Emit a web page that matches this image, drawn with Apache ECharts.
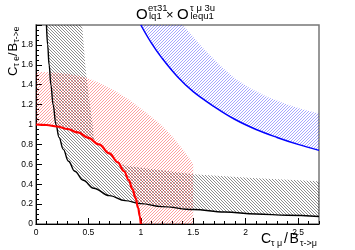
<!DOCTYPE html>
<html><head><meta charset="utf-8">
<script src="https://cdn.jsdelivr.net/npm/echarts@6/dist/echarts.min.js"></script>
<style>html,body{margin:0;padding:0;background:#fff}#c{width:355px;height:250px}</style>
</head><body><div id="c"></div>
<script>
// ---- data ----
const xTickValues = [0, 0.5, 1, 1.5, 2, 2.5];
const yTickValues = [0, 0.2, 0.4, 0.6, 0.8, 1, 1.2, 1.4, 1.6, 1.8];

// black curve (lower edge of black band)
const blackCurve = [[0.10,2.00],[0.111,1.80],[0.125,1.60],[0.142,1.40],[0.163,1.20],[0.19,1.00],[0.22,0.87],[0.26,0.75],[0.31,0.63],[0.37,0.53],[0.45,0.44],[0.55,0.36],[0.70,0.285],[0.85,0.235],[1.00,0.205],[1.20,0.175],[1.50,0.145],[1.80,0.12],[2.10,0.10],[2.40,0.088],[2.70,0.076]];
// upper edge of black hatched band
const blackBandUpper = [[0.44,2.00],[0.455,1.80],[0.47,1.60],[0.49,1.40],[0.515,1.20],[0.54,1.00],[0.55,0.86],[0.60,0.79],[0.66,0.74],[0.72,0.68],[0.78,0.62],[0.84,0.59],[1.00,0.565],[1.20,0.54],[1.50,0.50],[1.80,0.48],[2.10,0.46],[2.40,0.445],[2.70,0.43]];
// red curve (inner edge of red band)
const redCurve = [[0,1.00],[0.10,0.995],[0.20,0.98],[0.30,0.955],[0.40,0.92],[0.50,0.865],[0.60,0.80],[0.70,0.71],[0.78,0.62],[0.84,0.53],[0.885,0.44],[0.92,0.35],[0.95,0.26],[0.975,0.16],[0.99,0.08],[1.00,0.00]];
// outer edge of red band
const redBandOuter = [[0,1.53],[0.15,1.525],[0.30,1.51],[0.45,1.48],[0.60,1.42],[0.75,1.34],[0.90,1.24],[1.05,1.12],[1.20,0.99],[1.30,0.88],[1.40,0.75],[1.47,0.65],[1.50,0.60],[1.50,0.00]];
// blue curve (lower edge of blue band)
const blueCurve = [[1.00,2.00],[1.10,1.82],[1.20,1.67],[1.35,1.48],[1.50,1.33],[1.70,1.18],[1.90,1.05],[2.10,0.95],[2.30,0.87],[2.50,0.80],[2.70,0.74]];
// upper edge of blue band
const blueBandUpper = [[1.40,2.00],[1.50,1.88],[1.60,1.76],[1.75,1.60],[1.90,1.46],[2.05,1.36],[2.20,1.28],[2.40,1.20],[2.55,1.15],[2.70,1.11]];

// ---- rendering ----
const FONT = '"Liberation Sans", Arial, Helvetica, sans-serif';

// hatch a screen-space polygon with parallel 45deg lines (even-odd fill)
function hatchPath(pts, dir, step) {
  const s = dir === '/' ? 1 : -1;
  let lo = Infinity, hi = -Infinity;
  pts.forEach(p => { const v = p[0] + s * p[1]; lo = Math.min(lo, v); hi = Math.max(hi, v); });
  let d = '';
  const start = Math.floor(lo / step) * step;
  for (let c = start; c <= hi; c += step) {
    const xs = [];
    for (let i = 0; i < pts.length; i++) {
      const p = pts[i], q = pts[(i + 1) % pts.length];
      const fp = p[0] + s * p[1] - c, fq = q[0] + s * q[1] - c;
      if ((fp < 0) !== (fq < 0)) {
        const t = fp / (fp - fq);
        xs.push([p[0] + t * (q[0] - p[0]), p[1] + t * (q[1] - p[1])]);
      }
    }
    xs.sort((a, b) => a[0] - b[0]);
    for (let k = 0; k + 1 < xs.length; k += 2) {
      d += 'M' + xs[k][0].toFixed(2) + ' ' + xs[k][1].toFixed(2) + 'L' + xs[k + 1][0].toFixed(2) + ' ' + xs[k + 1][1].toFixed(2);
    }
  }
  return d;
}

function bandSeries(lower, upper, color, width, dir, step) {
  const poly = lower.concat(upper.slice().reverse());
  return {
    type: 'custom', xAxisIndex: 0, yAxisIndex: 0, clip: true, silent: true,
    data: [[0, 0]],
    renderItem: function (params, api) {
      const pts = poly.map(p => api.coord(p));
      return { type: 'path', shape: { pathData: hatchPath(pts, dir, step) },
        style: { fill: null, stroke: color, lineWidth: width } };
    }
  };
}
function lineSeries(pts, color, width, z, mono) {
  return {
    type: 'line', xAxisIndex: 0, yAxisIndex: 0, data: pts, showSymbol: false, symbol: 'none',
    smooth: 0.4, smoothMonotone: mono, clip: true, z: z,
    lineStyle: { color: color, width: width }
  };
}

function txt(x, y, s, size, extra) {
  return Object.assign({ type: 'text', x: x, y: y - 0.31 * size,
    style: { text: s, fontSize: size, fontFamily: FONT, fill: '#000', verticalAlign: 'middle', align: 'left' } }, extra || {});
}

const chart = echarts.init(document.getElementById('c'), null, { renderer: 'canvas' });
chart.setOption({
  animation: false,
  grid: { left: 36, right: 36, top: 25, bottom: 26, show: true, borderColor: '#777', borderWidth: 1.5, backgroundColor: 'transparent' },
  xAxis: [{
    type: 'value', min: 0, max: 2.7, interval: 0.5,
    axisLine: { show: true, lineStyle: { color: '#000', width: 1 } },
    axisTick: { show: true, inside: true, length: 6, lineStyle: { color: '#000' } },
    splitLine: { show: false },
    axisLabel: { fontSize: 8.5, fontFamily: FONT, color: '#000', margin: 4, showMaxLabel: false,
      formatter: v => (xTickValues.indexOf(v) >= 0 ? String(v) : '') }
  }, {
    type: 'value', min: 0, max: 2.7, interval: 0.1, position: 'bottom',
    axisLine: { show: false }, axisLabel: { show: false }, splitLine: { show: false },
    axisTick: { show: true, inside: true, length: 3, lineStyle: { color: '#000' } }
  }],
  yAxis: [{
    type: 'value', min: 0, max: 2, interval: 0.2,
    axisLine: { show: true, lineStyle: { color: '#000', width: 1 } },
    axisTick: { show: true, inside: true, length: 6, lineStyle: { color: '#000' } },
    minorTick: { show: true, splitNumber: 4, length: 3, lineStyle: { color: '#000' } },
    splitLine: { show: false },
    axisLabel: { fontSize: 8.5, fontFamily: FONT, color: '#000', margin: 3, showMaxLabel: false,
      formatter: v => (yTickValues.some(t => Math.abs(t - v) < 1e-9) ? String(+v.toFixed(2)) : '') }
  }],
  series: [
    bandSeries(blackCurve, blackBandUpper, 'rgba(0,0,0,0.75)', 0.6, '\\', 3),
    bandSeries(redCurve, redBandOuter, 'rgba(255,0,0,0.7)', 0.55, '/', 3),
    bandSeries(blueCurve, blueBandUpper, 'rgba(0,0,255,0.65)', 0.55, '/', 3),
    lineSeries(blackCurve, '#000', 1.4, 5, 'x'),
    lineSeries(redCurve, '#ff0000', 2.2, 6, 'x'),
    lineSeries(blueCurve, '#0000ff', 1.5, 7, null)
  ],
  graphic: [
    // title
    txt(136, 20, 'O', 15),
    txt(148, 11.5, 'eτ31', 9.5),
    txt(149, 19, 'lq1', 9.5),
    txt(166, 19.5, '×', 13),
    txt(177, 20, 'O', 15),
    txt(190, 11.5, 'τ μ 3u', 9.5),
    txt(190.5, 19, 'lequ1', 9.5),
    // x-axis title
    txt(261, 243.5, 'C', 14),
    txt(271, 246, 'τ μ', 9),
    txt(284, 243.5, '/', 14),
    txt(289.5, 243.5, 'B', 14),
    txt(300, 246, 'τ->μ', 9),
    // y-axis title (rotated)
    { type: 'group', x: 17, y: 76, rotation: Math.PI / 2, children: [
      txt(0, 0, 'C', 13),
      txt(9.5, 2.5, 'τ e', 8.5),
      txt(20, 0, '/', 13),
      txt(24.5, 0, 'B', 13),
      txt(33.5, 2.5, 'τ->e', 8.5)
    ] }
  ]
});
</script>
</body></html>
